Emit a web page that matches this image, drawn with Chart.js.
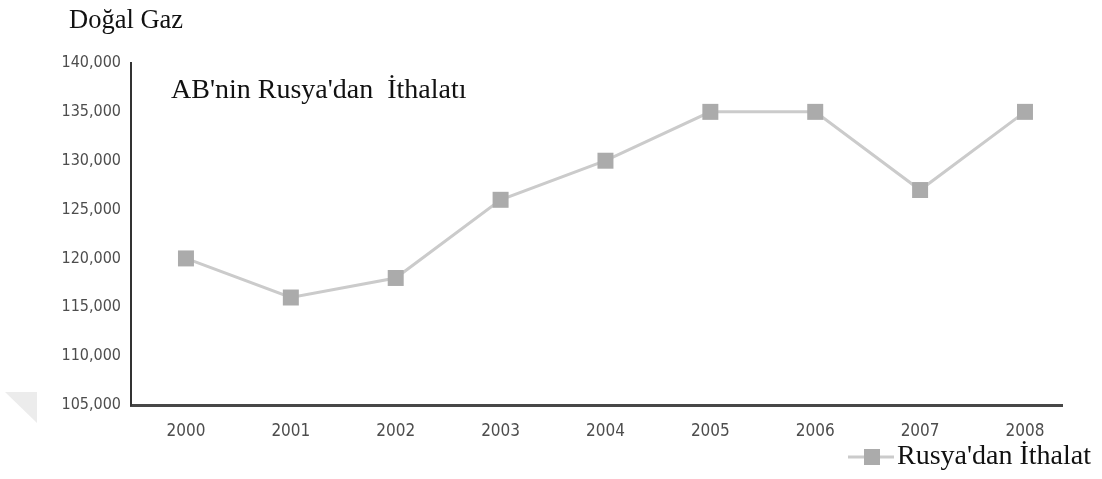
<!DOCTYPE html>
<html lang="tr">
<head>
<meta charset="utf-8">
<title>Doğal Gaz - AB'nin Rusya'dan İthalatı</title>
<script src="https://cdn.jsdelivr.net/npm/chart.js@4.4.1/dist/chart.umd.min.js"></script>
<style>
  html, body { margin: 0; padding: 0; background: #fff; }
  #wrap { position: relative; width: 1102px; height: 479px; }
</style>
</head>
<body>
<div id="wrap"><canvas id="gasChart" width="1102" height="479"></canvas></div>
<script>
const years = [2000, 2001, 2002, 2003, 2004, 2005, 2006, 2007, 2008];
const importsFromRussia = [120000, 116000, 118000, 126000, 130000, 135000, 135000, 127000, 135000];
const yTicks = [105000, 110000, 115000, 120000, 125000, 130000, 135000, 140000];

const unitLabel = "Doğal Gaz";
const chartHeading = "AB'nin Rusya'dan  İthalatı";
const seriesLabel = "Rusya'dan İthalat";

const serif = '"Liberation Serif", "Times New Roman", serif';
const tickFamily = '"DejaVu Sans Condensed", "DejaVu Sans", sans-serif';

// headings, corner mark and the single legend entry
const annotations = {
  id: "annotations",
  beforeDraw(chart) {
    const ctx = chart.ctx;
    ctx.save();
    ctx.fillStyle = "#ececec";
    ctx.beginPath();
    ctx.moveTo(5, 392);
    ctx.lineTo(37, 392);
    ctx.lineTo(37, 423);
    ctx.closePath();
    ctx.fill();
    ctx.restore();
  },
  afterDraw(chart) {
    const ctx = chart.ctx;
    const area = chart.chartArea;
    const ds = chart.data.datasets[0];
    ctx.save();
    ctx.fillStyle = "#111";
    ctx.textBaseline = "alphabetic";
    ctx.font = "26.5px " + serif;
    ctx.fillText(unitLabel, 69, 28);
    ctx.font = "28px " + serif;
    ctx.fillText(chartHeading, area.left + 40, 98);

    // legend: line with square marker, then label
    const ly = 457;
    ctx.strokeStyle = ds.borderColor;
    ctx.lineWidth = 3;
    ctx.beginPath();
    ctx.moveTo(848, ly);
    ctx.lineTo(894, ly);
    ctx.stroke();
    ctx.fillStyle = ds.pointBackgroundColor;
    ctx.fillRect(864, ly - 8, 16, 16);
    ctx.fillStyle = "#111";
    ctx.textBaseline = "middle";
    ctx.fillText(ds.label, 897, ly);
    ctx.restore();
  }
};

new Chart(document.getElementById("gasChart"), {
  type: "line",
  data: {
    datasets: [{
      label: seriesLabel,
      data: years.map((y, i) => ({ x: y, y: importsFromRussia[i] })),
      borderColor: "#cbcbcb",
      borderWidth: 3,
      pointStyle: "rect",
      pointRadius: 11.3,
      pointBackgroundColor: "#ababab",
      pointBorderWidth: 0,
      tension: 0
    }]
  },
  options: {
    responsive: false,
    animation: false,
    layout: { padding: { top: 63, right: 40, bottom: 0, left: 0 } },
    plugins: {
      legend: { display: false },
      title: { display: false },
      tooltip: { enabled: false }
    },
    scales: {
      x: {
        type: "linear",
        min: 1999.476,
        max: 2008.353,
        grid: { display: false, drawTicks: false },
        border: { display: true, color: "#474747", width: 3 },
        ticks: {
          padding: 16,
          color: "#4d4d4d",
          font: { family: tickFamily, size: 17 },
          autoSkip: false,
          maxRotation: 0,
          callback: v => String(v)
        },
        afterBuildTicks: s => {
          s.ticks = years.map(v => ({ value: v }));
        },
        afterFit: s => { s.height = 74; }
      },
      y: {
        min: yTicks[0],
        max: yTicks[yTicks.length - 1],
        grid: { display: false, drawTicks: false },
        border: { display: true, color: "#333", width: 2 },
        ticks: {
          padding: 10,
          color: "#4d4d4d",
          font: { family: tickFamily, size: 16 },
          autoSkip: false,
          callback: v => v.toLocaleString("en-US")
        },
        afterBuildTicks: s => {
          s.ticks = yTicks.map(v => ({ value: v }));
        },
        afterFit: s => { s.width = 131; }
      }
    }
  },
  plugins: [annotations]
});
</script>
</body>
</html>
